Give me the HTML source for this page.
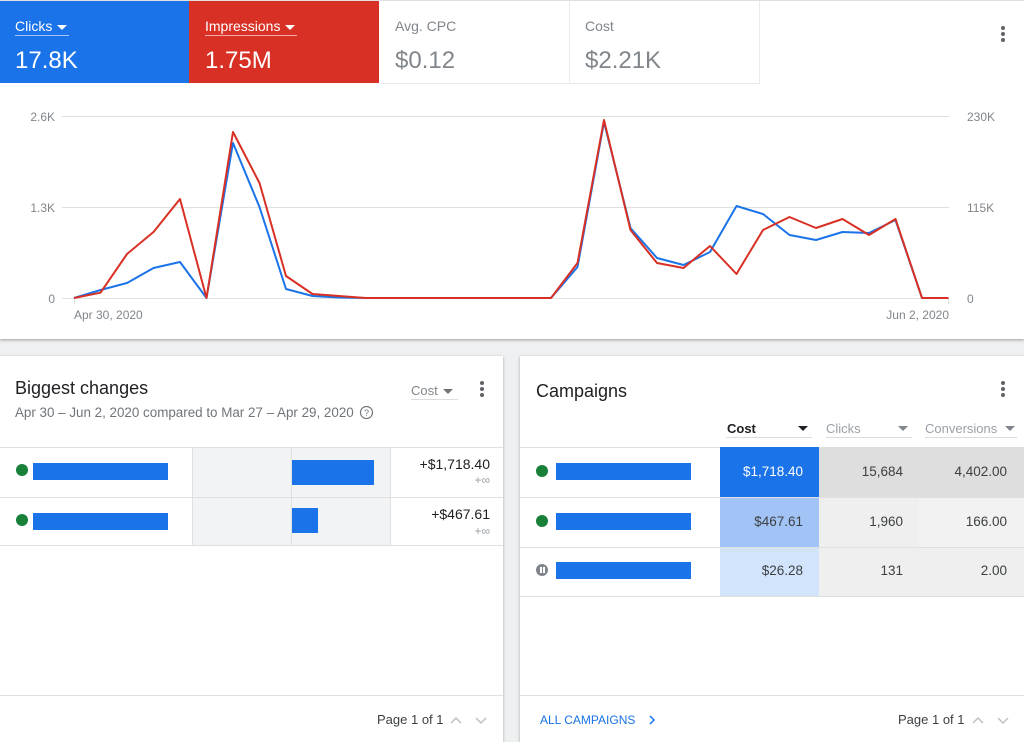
<!DOCTYPE html>
<html><head><meta charset="utf-8">
<style>
*{box-sizing:border-box;margin:0;padding:0}
html,body{width:1024px;height:742px;overflow:hidden;background:#eef0f1;font-family:"Liberation Sans",Arial,sans-serif;}
.abs{position:absolute}
.tri{display:inline-block;width:0;height:0;border-left:5px solid transparent;border-right:5px solid transparent;border-top:5px solid #fff;vertical-align:middle}
.keb{position:absolute;width:4px}
.keb i{display:block;width:4px;height:4px;border-radius:2px;background:#5f6368;margin-bottom:2px}
.t{position:absolute;white-space:nowrap;line-height:1}
</style></head><body>

<!-- top card -->
<div class="abs" style="left:0;top:0;width:1024px;height:339px;background:#fff;box-shadow:0 1px 3px rgba(0,0,0,.35);border-top:1px solid #e0e0e0"></div>

<!-- tiles -->
<div class="abs" style="left:0;top:1px;width:189px;height:82px;background:#1a73e8"></div>
<div class="abs" style="left:189px;top:1px;width:190px;height:82px;background:#d93025"></div>
<div class="abs" style="left:379px;top:1px;width:191px;height:83px;border-right:1px solid #e8eaed;border-bottom:1px solid #e8eaed"></div>
<div class="abs" style="left:569px;top:1px;width:191px;height:83px;border-right:1px solid #e8eaed;border-bottom:1px solid #e8eaed;border-left:1px solid #e8eaed"></div>

<div class="t" style="left:15px;top:19px;font-size:14px;color:#fff">Clicks <span class="tri" style="margin-left:1px"></span></div>
<div class="abs" style="left:15px;top:35px;width:54px;height:1px;background:rgba(255,255,255,.6)"></div>
<div class="t" style="left:15px;top:49px;font-size:24px;color:#fff">17.8K</div>

<div class="t" style="left:205px;top:19px;font-size:14px;color:#fff">Impressions <span class="tri" style="margin-left:1px"></span></div>
<div class="abs" style="left:205px;top:35px;width:92px;height:1px;background:rgba(255,255,255,.6)"></div>
<div class="t" style="left:205px;top:49px;font-size:24px;color:#fff">1.75M</div>

<div class="t" style="left:395px;top:19px;font-size:14px;color:#80868b">Avg. CPC</div>
<div class="t" style="left:395px;top:49px;font-size:24px;color:#80868b">$0.12</div>

<div class="t" style="left:585px;top:19px;font-size:14px;color:#80868b">Cost</div>
<div class="t" style="left:585px;top:49px;font-size:24px;color:#80868b">$2.21K</div>

<div class="keb" style="left:1001px;top:26px"><i></i><i></i><i></i></div>

<!-- chart -->
<svg class="abs" style="left:0;top:0" width="1024" height="340" xmlns="http://www.w3.org/2000/svg">
<g stroke="#e0e0e0" stroke-width="1">
<line x1="62" y1="116.5" x2="949" y2="116.5"/>
<line x1="62" y1="207.5" x2="949" y2="207.5"/>
<line x1="62" y1="298.5" x2="949" y2="298.5"/>
<line x1="74.5" y1="298" x2="74.5" y2="304"/>
<line x1="948.5" y1="298" x2="948.5" y2="304"/>
</g>
<g font-family="Liberation Sans, Arial, sans-serif" font-size="12" fill="#80868b">
<text x="55" y="121" text-anchor="end">2.6K</text>
<text x="55" y="212" text-anchor="end">1.3K</text>
<text x="55" y="303" text-anchor="end">0</text>
<text x="967" y="121">230K</text>
<text x="967" y="212">115K</text>
<text x="967" y="303">0</text>
<text x="74" y="319">Apr 30, 2020</text>
<text x="949" y="319" text-anchor="end">Jun 2, 2020</text>
</g>
<polyline fill="none" stroke="#1a73e8" stroke-width="2" stroke-linejoin="round" points="74,298 100.5,290 127,283 153.5,268 180,262 206.5,298 233,143 259.5,207 286,289 312.5,296 339,297.5 365.5,298 551,298 577.5,267 604,122 630.5,228 657,258 683.5,265 710,252 736.5,206 763,214 789.5,235 816,240 842.5,232 869,233 895.5,220 922,298 948.5,298"/>
<polyline fill="none" stroke="#d93025" stroke-width="2" stroke-linejoin="round" points="74,298 100.5,292.7 127,254 153.5,232 180,199 206.5,298 233,132 259.5,183 286,276 312.5,294 339,296 365.5,298 551,298 577.5,263 604,120 630.5,230 657,263 683.5,268 710,246 736.5,274 763,230 789.5,217 816,228 842.5,219 869,235 895.5,219 922,298 948.5,298"/>
</svg>

<!-- left panel -->
<div class="abs" style="left:0;top:356px;width:503px;height:386px;background:#fff;box-shadow:0 1px 3px rgba(0,0,0,.3)"></div>
<div class="t" style="left:15px;top:379px;font-size:18px;color:#202124">Biggest changes</div>
<div class="t" style="left:15px;top:406px;font-size:13.4px;color:#70757a">Apr 30 – Jun 2, 2020 compared to Mar 27 – Apr 29, 2020</div>
<svg class="abs" style="left:359px;top:405px" width="15" height="15"><circle cx="7.5" cy="7.5" r="6" fill="none" stroke="#70757a" stroke-width="1.2"/><text x="7.5" y="11" font-size="9" text-anchor="middle" fill="#70757a" font-family="Liberation Sans, Arial, sans-serif">?</text></svg>
<div class="t" style="left:411px;top:384px;font-size:13px;color:#80868b">Cost <span class="tri" style="border-top-color:#70757a;margin-left:2px"></span></div>
<div class="abs" style="left:411px;top:399px;width:47px;height:1px;background:#dadce0"></div>
<div class="keb" style="left:480px;top:381px"><i></i><i></i><i></i></div>

<div class="abs" style="left:0;top:447px;width:503px;height:1px;background:#e0e0e0"></div>
<div class="abs" style="left:0;top:497px;width:503px;height:1px;background:#e0e0e0"></div>
<div class="abs" style="left:0;top:545px;width:503px;height:1px;background:#e0e0e0"></div>
<div class="abs" style="left:192px;top:448px;width:199px;height:97px;background:#f1f3f4;border-left:1px solid #e0e0e0;border-right:1px solid #e0e0e0"></div>
<div class="abs" style="left:191px;top:497px;width:201px;height:1px;background:#e0e0e0"></div>
<div class="abs" style="left:291px;top:448px;width:1px;height:97px;background:#e0e0e0"></div>
<div class="abs" style="left:292px;top:460px;width:82px;height:25px;background:#1a73e8"></div>
<div class="abs" style="left:292px;top:508px;width:26px;height:25px;background:#1a73e8"></div>

<div class="abs" style="left:16px;top:464px;width:12px;height:12px;border-radius:6px;background:#188038"></div>
<div class="abs" style="left:33px;top:463px;width:135px;height:17px;background:#1a73e8"></div>
<div class="abs" style="left:16px;top:514px;width:12px;height:12px;border-radius:6px;background:#188038"></div>
<div class="abs" style="left:33px;top:513px;width:135px;height:17px;background:#1a73e8"></div>

<div class="t" style="right:534px;top:457px;font-size:14px;color:#202124">+$1,718.40</div>
<div class="t" style="right:534px;top:474px;font-size:12px;color:#9aa0a6">+∞</div>
<div class="t" style="right:534px;top:507px;font-size:14px;color:#202124">+$467.61</div>
<div class="t" style="right:534px;top:525px;font-size:12px;color:#9aa0a6">+∞</div>

<div class="abs" style="left:0;top:695px;width:503px;height:1px;background:#e0e0e0"></div>
<div class="t" style="left:377px;top:713px;font-size:13px;color:#3c4043">Page 1 of 1</div>
<svg class="abs" style="left:450px;top:713px" width="40" height="14"><polyline points="1,10 6,5 11,10" fill="none" stroke="#bdc1c6" stroke-width="1.5"/><polyline points="26,5 31,10 36,5" fill="none" stroke="#bdc1c6" stroke-width="1.5"/></svg>

<!-- right panel -->
<div class="abs" style="left:520px;top:356px;width:504px;height:386px;background:#fff;box-shadow:0 1px 3px rgba(0,0,0,.3)"></div>
<div class="t" style="left:536px;top:382px;font-size:18px;color:#202124">Campaigns</div>
<div class="keb" style="left:1001px;top:381px"><i></i><i></i><i></i></div>

<div class="t" style="left:727px;top:422px;font-size:13px;color:#202124;font-weight:bold">Cost</div>
<span class="tri abs" style="left:798px;top:426px;border-top-color:#202124"></span>
<div class="abs" style="left:726px;top:437px;width:86px;height:1px;background:#dadce0"></div>
<div class="t" style="left:826px;top:422px;font-size:13px;color:#9aa0a6">Clicks</div>
<span class="tri abs" style="left:898px;top:426px;border-top-color:#80868b"></span>
<div class="abs" style="left:826px;top:437px;width:86px;height:1px;background:#dadce0"></div>
<div class="t" style="left:925px;top:422px;font-size:13px;color:#9aa0a6">Conversions</div>
<span class="tri abs" style="left:1005px;top:426px;border-top-color:#80868b"></span>
<div class="abs" style="left:925px;top:437px;width:92px;height:1px;background:#dadce0"></div>

<div class="abs" style="left:520px;top:447px;width:504px;height:1px;background:#e0e0e0"></div>
<div class="abs" style="left:720px;top:447px;width:99px;height:50px;background:#1a73e8"></div>
<div class="abs" style="left:819px;top:447px;width:205px;height:50px;background:#dedede"></div>
<div class="abs" style="left:520px;top:497px;width:504px;height:1px;background:#e0e0e0"></div>
<div class="abs" style="left:720px;top:498px;width:99px;height:49px;background:#a1c3f5"></div>
<div class="abs" style="left:819px;top:498px;width:100px;height:49px;background:#efefef"></div>
<div class="abs" style="left:919px;top:498px;width:105px;height:49px;background:#f2f2f2"></div>
<div class="abs" style="left:520px;top:547px;width:504px;height:1px;background:#e0e0e0"></div>
<div class="abs" style="left:720px;top:548px;width:99px;height:48px;background:#d2e3fc"></div>
<div class="abs" style="left:819px;top:548px;width:205px;height:48px;background:#efefef"></div>
<div class="abs" style="left:520px;top:596px;width:504px;height:1px;background:#e0e0e0"></div>

<div class="abs" style="left:536px;top:465px;width:12px;height:12px;border-radius:6px;background:#188038"></div>
<div class="abs" style="left:556px;top:463px;width:135px;height:17px;background:#1a73e8"></div>
<div class="abs" style="left:536px;top:515px;width:12px;height:12px;border-radius:6px;background:#188038"></div>
<div class="abs" style="left:556px;top:513px;width:135px;height:17px;background:#1a73e8"></div>
<div class="abs" style="left:536px;top:564px;width:12px;height:12px;border-radius:6px;background:#80868b"></div>
<div class="abs" style="left:540px;top:567px;width:1.5px;height:6px;background:#fff"></div>
<div class="abs" style="left:543px;top:567px;width:1.5px;height:6px;background:#fff"></div>
<div class="abs" style="left:556px;top:562px;width:135px;height:17px;background:#1a73e8"></div>

<div class="t" style="right:221px;top:465px;font-size:13.5px;color:#fff">$1,718.40</div>
<div class="t" style="right:121px;top:465px;font-size:13.5px;color:#3c4043">15,684</div>
<div class="t" style="right:17px;top:465px;font-size:13.5px;color:#3c4043">4,402.00</div>
<div class="t" style="right:221px;top:515px;font-size:13.5px;color:#3c4043">$467.61</div>
<div class="t" style="right:121px;top:515px;font-size:13.5px;color:#3c4043">1,960</div>
<div class="t" style="right:17px;top:515px;font-size:13.5px;color:#3c4043">166.00</div>
<div class="t" style="right:221px;top:564px;font-size:13.5px;color:#3c4043">$26.28</div>
<div class="t" style="right:121px;top:564px;font-size:13.5px;color:#3c4043">131</div>
<div class="t" style="right:17px;top:564px;font-size:13.5px;color:#3c4043">2.00</div>

<div class="abs" style="left:520px;top:695px;width:504px;height:1px;background:#e0e0e0"></div>
<div class="t" style="left:540px;top:714px;font-size:12px;color:#1a73e8">ALL CAMPAIGNS</div>
<svg class="abs" style="left:648px;top:713px" width="10" height="14"><polyline points="2,3 6,7 2,11" fill="none" stroke="#1a73e8" stroke-width="1.5"/></svg>
<div class="t" style="left:898px;top:713px;font-size:13px;color:#3c4043">Page 1 of 1</div>
<svg class="abs" style="left:972px;top:713px" width="40" height="14"><polyline points="1,10 6,5 11,10" fill="none" stroke="#bdc1c6" stroke-width="1.5"/><polyline points="26,5 31,10 36,5" fill="none" stroke="#bdc1c6" stroke-width="1.5"/></svg>

</body></html>
